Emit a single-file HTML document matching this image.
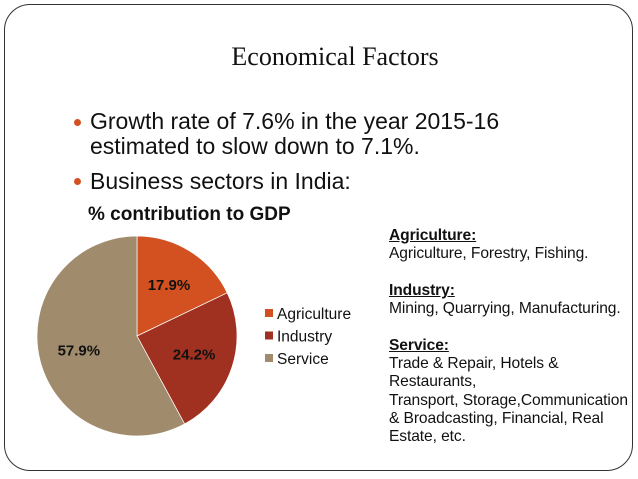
<!DOCTYPE html>
<html><head><meta charset="utf-8"><style>
body{margin:0;width:638px;height:479px;background:#fff;position:relative;overflow:hidden;font-family:"Liberation Sans",sans-serif}
.frame{position:absolute;left:4px;top:4px;width:627px;height:465px;border:1.5px solid #333;border-radius:26px}
.t{position:absolute;white-space:nowrap;color:#111}
.dot{position:absolute;width:7px;height:7px;border-radius:50%;background:#d35121}
.r{position:absolute;left:389px;font-size:15.6px;line-height:18.3px;color:#111;white-space:nowrap;letter-spacing:-0.1px}
.r b{font-weight:bold;text-decoration:underline}
</style></head><body>
<div class="frame"></div>
<div class="t" style="left:0;width:670px;text-align:center;top:42px;font-family:'Liberation Serif',serif;font-size:26px">Economical Factors</div>
<div class="dot" style="left:74px;top:119px"></div>
<div class="t" style="left:90px;top:109px;font-size:23px;line-height:25px">Growth rate of 7.6% in the year 2015-16<br>estimated to slow down to 7.1%.</div>
<div class="dot" style="left:74px;top:178px"></div>
<div class="t" style="left:90px;top:168px;font-size:23px">Business sectors in India:</div>
<div class="t" style="left:88px;top:204px;font-size:19px;font-weight:bold">% contribution to GDP</div>
<svg id="chart" width="638" height="479" style="position:absolute;left:0;top:0"></svg>
<div class="r" style="top:227px"><b>Agriculture:</b><br>Agriculture, Forestry, Fishing.<br><br><b>Industry:</b><br>Mining, Quarrying, Manufacturing.<br><br><b>Service:</b><br>Trade &amp; Repair, Hotels &amp;<br>Restaurants,<br>Transport, Storage,Communication<br>&amp; Broadcasting, Financial, Real<br>Estate, etc.</div>
<script>
const categories=["Agriculture","Industry","Service"];
const values=[17.9,24.2,57.9];
const labels=["17.9%","24.2%","57.9%"];
const colors=["#d35121","#a0301f","#a08c6c"];
const svg=document.getElementById('chart');
const NS="http://www.w3.org/2000/svg";
const cx=137,cy=336,R=100;
const total=values.reduce((a,b)=>a+b,0);
let a0=0;
function pt(a,r){return [cx+r*Math.sin(a),cy-r*Math.cos(a)];}
values.forEach((v,i)=>{
 const a1=a0+v/total*2*Math.PI;
 const p0=pt(a0,R),p1=pt(a1,R);
 const large=(a1-a0)>Math.PI?1:0;
 const p=document.createElementNS(NS,'path');
 p.setAttribute('d',`M${cx},${cy}L${p0[0]},${p0[1]}A${R},${R} 0 ${large} 1 ${p1[0]},${p1[1]}Z`);
 p.setAttribute('fill',colors[i]);p.setAttribute('stroke','#fff');p.setAttribute('stroke-width','0.7');
 
 
 svg.appendChild(p);
 const m=(a0+a1)/2,lp=pt(m,R*0.6);
 const t=document.createElementNS(NS,'text');
 t.setAttribute('x',lp[0]);t.setAttribute('y',lp[1]+5);t.setAttribute('text-anchor','middle');
 t.setAttribute('font-family','Liberation Sans, sans-serif');t.setAttribute('font-size','15');t.setAttribute('font-weight','bold');t.setAttribute('fill','#111');
 t.textContent=labels[i];
 
 
 svg.appendChild(t);
 const ly=319+i*22.5;
 const sq=document.createElementNS(NS,'rect');
 sq.setAttribute('x',265);sq.setAttribute('y',ly-10);sq.setAttribute('width',8);sq.setAttribute('height',8);sq.setAttribute('fill',colors[i]);
 
 
 svg.appendChild(sq);
 const lt=document.createElementNS(NS,'text');
 lt.setAttribute('x',277);lt.setAttribute('y',ly);lt.setAttribute('font-family','Liberation Sans, sans-serif');lt.setAttribute('font-size','15.5');lt.setAttribute('fill','#111');
 lt.textContent=categories[i];
 
 
 svg.appendChild(lt);
 a0=a1;
});
</script>
</body></html>
